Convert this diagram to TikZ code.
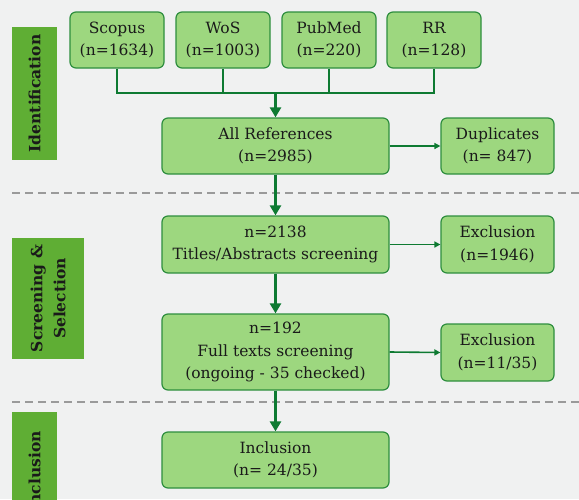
\documentclass[tikz,border=0pt]{standalone}
\usepackage{fontspec}
\setmainfont{DejaVu Serif}
\usetikzlibrary{arrows.meta}
\definecolor{bg}{HTML}{F0F1F1}
\definecolor{boxfill}{HTML}{9DD77F}
\definecolor{boxdraw}{HTML}{2E8E3E}
\definecolor{arrowc}{HTML}{0E7A32}
\definecolor{labfill}{HTML}{5FAE34}
\definecolor{dashc}{HTML}{9A9A9A}
\definecolor{txt}{HTML}{1A1A1A}
\begin{document}
\begin{tikzpicture}[x=1pt,y=-1pt,
  box/.style={draw=boxdraw, fill=boxfill, rounded corners=6pt, line width=1.2pt, align=center, inner sep=0pt, text=txt, font=\fontsize{15.5}{22.5}\selectfont},
  sidelab/.style={fill=labfill, rotate=90, align=center, inner sep=0pt, text=txt, font=\bfseries\fontsize{15.5}{23}\selectfont},
  thick arrow/.style={draw=arrowc, line width=3pt, -{Triangle[length=10pt,width=11pt]}},
  thin arrow/.style={draw=arrowc, line width=1.6pt, -{Triangle[length=6pt,width=6pt]}},
  feed/.style={draw=arrowc, line width=2.6pt},
  sep/.style={draw=dashc, line width=2pt, dash pattern=on 8pt off 5pt}]
\useasboundingbox (0,0) rectangle (579,499);
\clip (0,0) rectangle (579,499);
\fill[bg] (0,0) rectangle (579,499);

% side labels
\node[sidelab, minimum width=133pt, minimum height=45pt] (lid) at (34.5,93.5) {Identification};
\node[sidelab, minimum width=121pt, minimum height=72pt] (lsc) at (48,298.5) {Screening \&\\Selection};
\node[sidelab, minimum width=120pt, minimum height=45pt] (lin) at (34.5,472) {Inclusion};

% dashed separators
\draw[sep] (12,193) -- (579,193);
\draw[sep] (12,402) -- (579,402);

% sources
\node[box, minimum width=94pt, minimum height=56pt] (scopus) at (117,40) {Scopus\\(n=1634)};
\node[box, minimum width=94pt, minimum height=56pt] (wos) at (223,40) {WoS\\(n=1003)};
\node[box, minimum width=94pt, minimum height=56pt] (pubmed) at (329,40) {PubMed\\(n=220)};
\node[box, minimum width=94pt, minimum height=56pt] (rr) at (434,40) {RR\\(n=128)};

% main column
\node[box, minimum width=227pt, minimum height=56pt] (all) at (275.5,146) {All References\\(n=2985)};
\node[box, minimum width=227pt, minimum height=57pt] (ta) at (275.5,244.5) {n=2138\\Titles/Abstracts screening};
\node[box, minimum width=227pt, minimum height=76pt] (ft) at (275.5,352) {n=192\\Full texts screening\\(ongoing - 35 checked)};
\node[box, minimum width=227pt, minimum height=56pt] (inc) at (275.5,460) {Inclusion\\(n= 24/35)};

% right column
\node[box, minimum width=113pt, minimum height=56pt] (dup) at (497.5,146) {Duplicates\\(n= 847)};
\node[box, minimum width=113pt, minimum height=57pt] (ex1) at (497.5,244.5) {Exclusion\\(n=1946)};
\node[box, minimum width=113pt, minimum height=57pt] (ex2) at (497.5,352.5) {Exclusion\\(n=11/35)};

% feed connectors
\coordinate (j) at (275.5,93);
\draw[feed] (scopus.south) |- (j);
\draw[feed] (rr.south) |- (j);
\draw[feed] (wos.south) -- (wos.south |- j);
\draw[feed] (pubmed.south) -- (pubmed.south |- j);
\draw[thick arrow] (j) -- (all.north);

% main flow
\draw[thick arrow] (all.south) -- (ta.north);
\draw[thick arrow] (ta.south) -- (ft.north);
\draw[thick arrow] (ft.south) -- (inc.north);

% side arrows
\draw[thin arrow] (all.east) -- (dup.west);
\draw[thin arrow] (ta.east) -- (ex1.west);
\draw[thin arrow] (ft.east) -- (ex2.west);
\end{tikzpicture}
\end{document}
